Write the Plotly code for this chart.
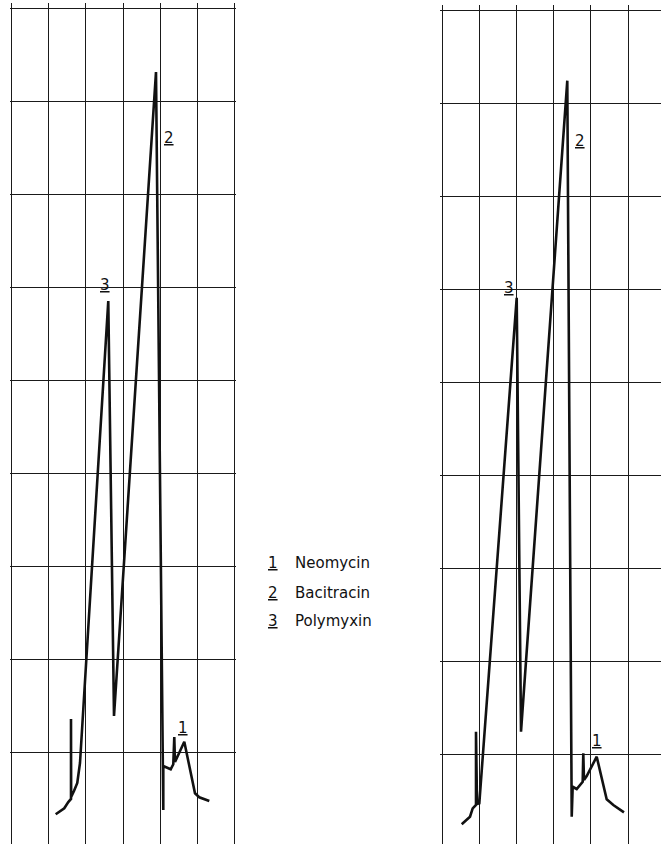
import plotly.graph_objects as go

# ---- data (chart units: x = chart divisions along time, y = detector response divisions)
left_t = [1.189, 1.420, 1.528, 1.601, 1.601, 1.605, 1.681, 1.770, 1.843, 2.604, 2.758, 3.888,
          4.084, 4.084, 4.283, 4.353, 4.380, 4.399, 4.649, 4.937, 5.052, 5.322]
left_signal = [0.330, 0.395, 0.462, 0.495, 1.355, 0.516, 0.581, 0.667, 0.882, 5.849, 1.387, 8.312,
               0.376, 0.849, 0.814, 0.868, 1.161, 0.892, 1.111, 0.556, 0.513, 0.473]

right_t = [0.530, 0.753, 0.825, 0.914, 0.914, 0.941, 1.003, 2.008, 2.124, 3.368,
           3.487, 3.513, 3.621, 3.782, 3.798, 3.817, 3.890, 4.159, 4.427, 4.605, 4.892]
right_signal = [0.244, 0.326, 0.416, 0.452, 1.240, 0.462, 0.470, 5.906, 1.240, 8.240,
                0.326, 0.648, 0.624, 0.702, 1.008, 0.720, 0.763, 0.971, 0.513, 0.452, 0.373]

peak_numbers = ["1", "2", "3"]
left_label_x = [4.614, 4.245, 2.515]
left_label_y = [1.255, 7.602, 6.020]
right_label_x = [4.159, 3.718, 1.809]
right_label_y = [1.142, 7.586, 6.016]

legend_numbers = ["1", "2", "3"]
legend_names = ["Neomycin", "Bacitracin", "Polymyxin"]

# ---- figure
W, H = 661, 844
FONT = "DejaVu Sans"
fig = go.Figure()

fig.add_trace(go.Scatter(x=left_t, y=left_signal, mode="lines", xaxis="x", yaxis="y",
                         line=dict(color="#111111", width=2.6), hoverinfo="skip", showlegend=False))
fig.add_trace(go.Scatter(x=right_t, y=right_signal, mode="lines", xaxis="x2", yaxis="y2",
                         line=dict(color="#111111", width=2.6), hoverinfo="skip", showlegend=False))

grid = dict(showgrid=True, gridcolor="#1a1a1a", gridwidth=1.4, dtick=1, tick0=0,
            showticklabels=False, ticks="", zeroline=False, showline=False, fixedrange=True)

fig.update_layout(
    width=W, height=H, margin=dict(l=0, r=0, t=0, b=0),
    paper_bgcolor="white", plot_bgcolor="rgba(0,0,0,0)",
    xaxis=dict(domain=[9.64 / W, 236.36 / W], range=[-0.05, 6.05], anchor="y", **grid),
    yaxis=dict(domain=[0, 1 - 3.35 / H], range=[0.0108, 9.05], anchor="x", **grid),
    xaxis2=dict(domain=[440.14 / W, 1.0], range=[-0.05, (W - 442) / 37.2], anchor="y2", **grid),
    yaxis2=dict(domain=[0, 1 - 5.35 / H], range=[0.0323, 9.05], anchor="x2", **grid),
)

annotations = []
for txt, lx, ly in zip(peak_numbers, left_label_x, left_label_y):
    annotations.append(dict(text=f"<u>{txt}</u>", x=lx, y=ly, xref="x", yref="y", showarrow=False,
                            font=dict(family=FONT, size=15, color="#111111"),
                            xanchor="center", yanchor="middle"))
for txt, lx, ly in zip(peak_numbers, right_label_x, right_label_y):
    annotations.append(dict(text=f"<u>{txt}</u>", x=lx, y=ly, xref="x2", yref="y2", showarrow=False,
                            font=dict(family=FONT, size=15, color="#111111"),
                            xanchor="center", yanchor="middle"))

row_px = [563, 592.5, 621]
for num, name, py in zip(legend_numbers, legend_names, row_px):
    annotations.append(dict(text=f"<u>{num}</u>", x=273.3 / W, y=1 - py / H, xref="paper", yref="paper",
                            showarrow=False, font=dict(family=FONT, size=15, color="#111111"),
                            xanchor="center", yanchor="middle"))
    annotations.append(dict(text=name, x=293.0 / W, y=1 - py / H, xref="paper", yref="paper",
                            showarrow=False, font=dict(family=FONT, size=15, color="#111111"),
                            xanchor="left", yanchor="middle"))
fig.update_layout(annotations=annotations)

fig.write_html("out.html", config={"displayModeBar": False})
